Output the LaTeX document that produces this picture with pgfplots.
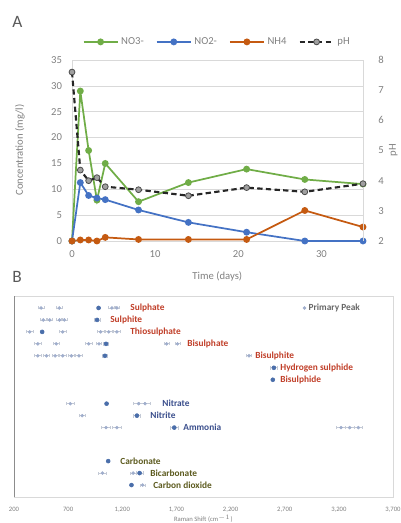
\documentclass[border=0pt]{standalone}
\usepackage{pgfplots}
\pgfplotsset{compat=1.18}
\usepackage{pgfplotstable}
\usepackage{fontspec}
\setmainfont{Carlito}

\definecolor{cNOthree}{RGB}{112,173,71}
\definecolor{cNOtwo}{RGB}{68,114,196}
\definecolor{cNH}{RGB}{197,90,17}
\definecolor{cpHfill}{RGB}{160,160,160}
\definecolor{txtgray}{RGB}{128,128,128}
\definecolor{gridgray}{RGB}{217,217,217}
\definecolor{lblred}{RGB}{192,62,40}
\definecolor{lblblue}{RGB}{58,78,140}
\definecolor{lblolive}{RGB}{92,90,30}
\definecolor{pkprim}{RGB}{74,110,170}
\definecolor{pksec}{RGB}{160,174,204}
\definecolor{pkerr}{RGB}{196,202,214}

% Time series of nitrogen species and pH
\pgfplotstableread{
t   NOthree NOtwo NH   pH
0   0      0     0    7.60
1   29.0   11.3  0.2  4.35
2   17.5   8.8   0.2  4.00
3   7.9    8.3   0.0  4.10
4   15.0   8.0   0.7  3.80
8   7.6    6.0   0.3  3.70
14  11.3   3.6   0.3  3.50
21  13.9   1.7   0.3  3.77
28  11.9   0.0   5.9  3.63
35  11.0   0.0   2.7  3.90
}\timedata

% Raman bands: secondary peaks (x, row, half-width)
\pgfplotstableread{
x    y     ex
450  15.8  30
618  15.8  30
1104 15.8  30
1150 15.8  25
470  14.8  30
530  14.8  25
620  14.8  30
665  14.8  25
345  13.8  30
650  13.8  30
1000 13.8  30
1075 13.8  30
1150 13.8  30
420  12.8  30
590  12.8  30
890  12.8  30
985  12.8  25
1610 12.8  25
1710 12.8  25
420  11.8  30
500  11.8  30
580  11.8  30
650  11.8  30
730  11.8  30
800  11.8  30
2370 11.8  25
720  7.8   40
1350 7.8   50
1410 7.8   50
830  6.8   30
1050 5.8   40
1150 5.8   40
3220 5.8   40
3300 5.8   40
3380 5.8   40
1017 2.0   35
1300 2.0   30
1388 1.0   20
}\secpeaks

% Raman bands: primary peak of each species
\pgfplotstableread{
x    y     ex
981  15.8  0
967  14.8  30
460  13.8  0
1050 12.8  25
1040 11.8  25
2600 10.8  30
2590 9.8   0
1055 7.8   0
1335 6.8   35
1680 5.8   40
1070 3.0   0
1360 2.0   30
1285 1.0   0
}\primpeaks

\begin{document}
\begin{tikzpicture}
\path[use as bounding box] (0,0) rectangle (300pt,-392.25pt);

% panel letters
\node[anchor=west,inner sep=0,text=black!65,font=\fontsize{13}{14}\selectfont] at (9pt,-16.5pt) {A};
\node[anchor=west,inner sep=0,text=black!65,font=\fontsize{13}{14}\selectfont] at (9pt,-207.5pt) {B};

% ---------- Panel A: concentrations ----------
\begin{axis}[
  at={(54pt,-180.75pt)}, anchor=south west,
  scale only axis, width=218.25pt, height=135.75pt,
  xmin=0, xmax=35, ymin=0, ymax=35,
  xtick={0,10,20,30}, ytick={0,5,...,35},
  ymajorgrids, grid style={gridgray, line width=0.5pt},
  axis line style={gridgray, line width=0.5pt},
  major tick length=0pt,
  tick label style={text=txtgray, font=\fontsize{8}{9}\selectfont},
  /pgf/number format/assume math mode=true,
  xticklabel style={yshift=-4pt},
  yticklabel style={xshift=-4pt},
  clip=false,
]
\addplot[cNOthree, line width=1.3pt, mark=*, mark size=1.9pt] table[x=t,y=NOthree] {\timedata};
\addplot[cNOtwo, line width=1.3pt, mark=*, mark size=1.9pt] table[x=t,y=NOtwo] {\timedata};
\addplot[cNH, line width=1.3pt, mark=*, mark size=1.9pt] table[x=t,y=NH] {\timedata};
\end{axis}

\begin{axis}[
  at={(54pt,-180.75pt)}, anchor=south west,
  scale only axis, width=218.25pt, height=135.75pt,
  xmin=0, xmax=35, ymin=2, ymax=8,
  axis y line*=right, axis x line=none,
  ytick={2,...,8},
  axis line style={gridgray, line width=0.5pt},
  major tick length=0pt,
  tick label style={text=txtgray, font=\fontsize{8}{9}\selectfont},
  /pgf/number format/assume math mode=true,
  yticklabel style={xshift=8pt},
  clip=false,
  legend columns=4,
  legend style={draw=none, fill=none, at={(0.5,1.1)}, anchor=center,
    font=\fontsize{8}{9}\selectfont, text=txtgray,
    /tikz/every even column/.append style={column sep=7pt}},
  legend image code/.code={\draw[mark repeat=2,mark phase=2,#1] plot coordinates {(0cm,0cm)(0.45cm,0cm)(0.9cm,0cm)};},
]
\addlegendimage{cNOthree, line width=1.3pt, mark=*, mark size=1.9pt}
\addlegendentry{NO3-}
\addlegendimage{cNOtwo, line width=1.3pt, mark=*, mark size=1.9pt}
\addlegendentry{NO2-}
\addlegendimage{cNH, line width=1.3pt, mark=*, mark size=1.9pt}
\addlegendentry{NH4}
\addplot[black!85, line width=1.6pt, dash pattern=on 4pt off 2.5pt,
  mark=*, mark size=2.2pt, mark options={solid, fill=cpHfill, draw=black!70, line width=0.6pt}]
  table[x=t,y=pH] {\timedata};
\addlegendentry{pH}
\end{axis}

% Panel A axis titles
\node[rotate=90,text=txtgray,font=\fontsize{8}{9}\selectfont] at (15pt,-112.5pt) {Concentration (mg/l)};
\node[rotate=90,text=txtgray,font=\fontsize{8}{9}\selectfont] at (295pt,-112.5pt) {pH};
\node[text=txtgray,font=\fontsize{8}{9}\selectfont] at (163pt,-207pt) {Time (days)};

% ---------- Panel B: Raman band map ----------
\begin{axis}[
  at={(10.5pt,-372.75pt)}, anchor=south west,
  scale only axis, width=284.25pt, height=150.75pt,
  xmin=200, xmax=3700, ymin=0, ymax=16.8,
  xtick={200,700,...,3700}, ytick=\empty,
  axis line style={gridgray, line width=0.5pt},
  major tick length=0pt,
  tick label style={text=txtgray, font=\fontsize{5}{6}\selectfont},
  /pgf/number format/assume math mode=true,
  /pgf/number format/1000 sep={,},
  xticklabel style={yshift=-4pt},
  clip=false,
  legend style={draw=none, fill=none, at={(0.762,0.94)}, anchor=west,
    font=\bfseries\fontsize{7}{8}\selectfont, text=black!60,
    inner sep=0pt},
  legend image code/.code={\draw[#1] plot coordinates {(0.15cm,0cm)};},
]
\draw[black!45, line width=0.6pt] (rel axis cs:0,0) -- (rel axis cs:0,1);
\addplot[only marks, mark=*, mark size=1.1pt, pksec,
  error bars/.cd, x dir=both, x explicit,
  error bar style={pkerr, line width=0.6pt}]
  table[x=x, y=y, x error=ex] {\secpeaks};
\addplot[only marks, mark=*, mark size=1.5pt, pkprim,
  error bars/.cd, x dir=both, x explicit,
  error bar style={pkerr, line width=0.6pt}]
  table[x=x, y=y, x error=ex] {\primpeaks};
\addlegendentry{Primary Peak}

\begin{scope}[every node/.style={anchor=west, inner sep=0pt, font=\bfseries\fontsize{7}{8}\selectfont}]
\node[text=lblred] at (axis cs:1272,15.8) {Sulphate};
\node[text=lblred] at (axis cs:1087,14.8) {Sulphite};
\node[text=lblred] at (axis cs:1272,13.8) {Thiosulphate};
\node[text=lblred] at (axis cs:1799,12.8) {Bisulphate};
\node[text=lblred] at (axis cs:2427,11.8) {Bisulphite};
\node[text=lblred] at (axis cs:2658,10.8) {Hydrogen sulphide};
\node[text=lblred] at (axis cs:2658,9.8) {Bisulphide};
\node[text=lblblue] at (axis cs:1568,7.8) {Nitrate};
\node[text=lblblue] at (axis cs:1457,6.8) {Nitrite};
\node[text=lblblue] at (axis cs:1762,5.8) {Ammonia};
\node[text=lblolive] at (axis cs:1180,3.0) {Carbonate};
\node[text=lblolive] at (axis cs:1457,2.0) {Bicarbonate};
\node[text=lblolive] at (axis cs:1484,1.0) {Carbon dioxide};
\end{scope}
\end{axis}
\node[text=txtgray,font=\fontsize{5}{6}\selectfont] at (152.5pt,-389pt) {Raman Shift (cm$^{-1}$)};
\end{tikzpicture}
\end{document}
